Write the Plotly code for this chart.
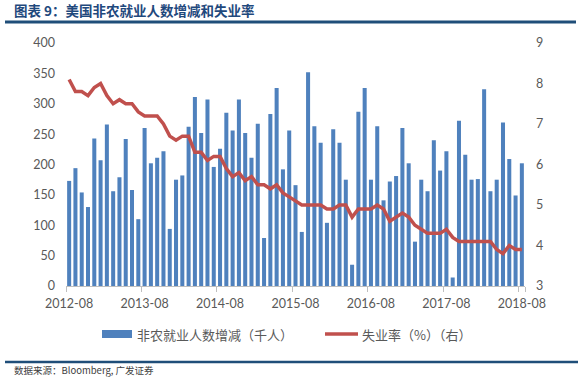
import plotly.graph_objects as go
import pandas as pd

# ---------------- data ----------------
months = list(pd.date_range("2012-08-01", "2018-08-01", freq="MS").strftime("%Y-%m"))

payrolls = [173, 194, 154, 130, 243, 207, 266, 156, 179, 242, 158, 110,
            260, 202, 211, 222, 94, 175, 182, 262, 311, 252, 307, 196,
            226, 285, 256, 307, 252, 211, 267, 79, 283, 326, 192, 256,
            166, 89, 352, 263, 236, 104, 258, 236, 175, 35, 287, 326,
            175, 263, 141, 172, 181, 260, 202, 73, 175, 156, 240, 190,
            222, 14, 272, 216, 175, 176, 324, 156, 175, 269, 209, 149, 202]

unemployment = [8.1, 7.8, 7.8, 7.7, 7.9, 8.0, 7.7, 7.5, 7.6, 7.5, 7.5, 7.3,
                7.2, 7.2, 7.2, 7.0, 6.7, 6.6, 6.7, 6.7, 6.3, 6.3, 6.1, 6.2,
                6.2, 5.9, 5.7, 5.8, 5.6, 5.7, 5.5, 5.5, 5.4, 5.5, 5.3, 5.2,
                5.1, 5.0, 5.0, 5.0, 5.0, 4.9, 4.9, 5.0, 5.0, 4.7, 4.9, 4.9,
                4.9, 5.0, 4.9, 4.6, 4.7, 4.8, 4.7, 4.5, 4.4, 4.3, 4.3, 4.3,
                4.4, 4.2, 4.1, 4.1, 4.1, 4.1, 4.1, 4.1, 3.9, 3.8, 4.0, 3.9, 3.9]

tick_labels = ["2012-08", "2013-08", "2014-08", "2015-08", "2016-08", "2017-08", "2018-08"]

bar_name = "非农就业人数增减（千人）"
line_name = "失业率（%）（右）"
title_text = "图表 9：美国非农就业人数增减和失业率"
source_text = "数据来源：Bloomberg, 广发证券"

BAR_COLOR = "#4F81BD"
LINE_COLOR = "#C0504D"
DARK_BLUE = "#1F4E79"
TEXT_GRAY = "#595959"
FONT = "Lato, 'Noto Sans CJK SC', sans-serif"
CJK = "'Noto Sans CJK SC', sans-serif"

W, H = 578, 377
L, R, T, B = 66, 53, 43, 91
PW, PH = W - L - R, H - T - B


def X(px):
    return (px - L) / PW


def Y(py):
    return (H - B - py) / PH


fig = go.Figure()
fig.add_trace(go.Bar(x=months, y=payrolls, name=bar_name, marker_color=BAR_COLOR,
                     marker_line_width=0, showlegend=False))
fig.add_trace(go.Scatter(x=months, y=unemployment, name=line_name, yaxis="y2",
                         mode="lines", line=dict(color=LINE_COLOR, width=3.5),
                         showlegend=False))

fig.update_layout(
    width=W, height=H,
    margin=dict(l=L, r=R, t=T, b=B, autoexpand=False),
    paper_bgcolor="white", plot_bgcolor="white",
    bargap=0.36,
    font=dict(family=FONT, size=12, color=TEXT_GRAY),
    xaxis=dict(type="category", range=[-0.5, len(months) - 0.5],
               tickmode="array", tickvals=tick_labels, ticktext=tick_labels,
               tickangle=0, ticklabelstandoff=6,
               tickson="boundaries", ticks="outside", ticklen=5, tickcolor="#BFBFBF",
               showline=True, linecolor="#BFBFBF", linewidth=1,
               showgrid=False, zeroline=False, tickfont=dict(size=12.5, color=TEXT_GRAY),
               automargin=False),
    yaxis=dict(range=[0, 400], dtick=50, showgrid=False, zeroline=False,
               showline=False, ticks="", ticklabelstandoff=10,
               tickfont=dict(size=12.5, color=TEXT_GRAY), automargin=False),
    yaxis2=dict(range=[3, 9], dtick=1, overlaying="y", side="right",
                showgrid=False, zeroline=False, showline=False, ticks="",
                ticklabelstandoff=10, tickfont=dict(size=12.5, color=TEXT_GRAY),
                automargin=False),
    showlegend=False,
)

shapes = [
    # title underline
    dict(type="line", xref="paper", yref="paper", x0=X(5), x1=X(576), y0=Y(22), y1=Y(22),
         line=dict(color=DARK_BLUE, width=3)),
    # bottom rule
    dict(type="line", xref="paper", yref="paper", x0=X(5), x1=X(578), y0=Y(362), y1=Y(362),
         line=dict(color=DARK_BLUE, width=2.5)),
    # legend bar swatch
    dict(type="rect", xref="paper", yref="paper", x0=X(102), x1=X(132), y0=Y(338), y1=Y(330),
         fillcolor=BAR_COLOR, line=dict(width=0)),
    # legend line swatch
    dict(type="line", xref="paper", yref="paper", x0=X(325), x1=X(358), y0=Y(334), y1=Y(334),
         line=dict(color=LINE_COLOR, width=3.5)),
]

annotations = [
    dict(text="<b>" + title_text + "</b>", xref="paper", yref="paper", x=X(12), y=Y(10),
         xanchor="left", yanchor="middle", showarrow=False,
         font=dict(family=CJK, size=13.5, color="#1F497D")),
    dict(text=bar_name, xref="paper", yref="paper", x=X(135), y=Y(334),
         xanchor="left", yanchor="middle", showarrow=False,
         font=dict(family=CJK, size=13, color=TEXT_GRAY)),
    dict(text=line_name, xref="paper", yref="paper", x=X(360), y=Y(334),
         xanchor="left", yanchor="middle", showarrow=False,
         font=dict(family=CJK, size=13, color=TEXT_GRAY)),
    dict(text=source_text, xref="paper", yref="paper", x=X(12), y=Y(369.5),
         xanchor="left", yanchor="middle", showarrow=False,
         font=dict(family=CJK, size=9.5, color="#404040")),
]

fig.update_layout(shapes=shapes, annotations=annotations)

fig.write_html("out.html", config={"displayModeBar": False},
               post_script="document.body.style.margin='0';document.body.style.overflow='hidden';")
